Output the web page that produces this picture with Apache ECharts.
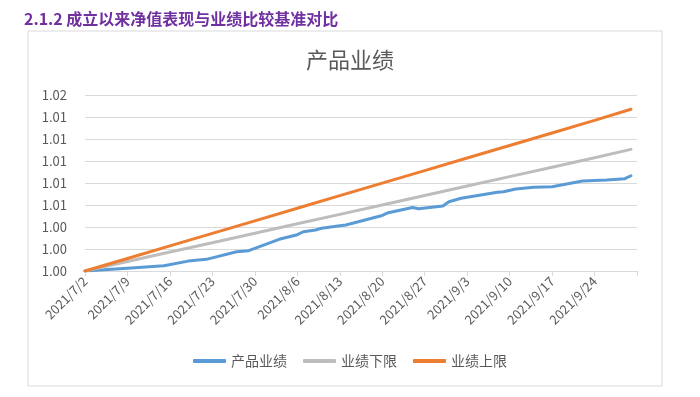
<!DOCTYPE html>
<html>
<head>
<meta charset="utf-8">
<script src="https://cdn.jsdelivr.net/npm/echarts@6/dist/echarts.min.js"></script>
<style>
  html, body { margin: 0; padding: 0; background: #fff; }
  #main { width: 700px; height: 397px; }
</style>
</head>
<body>
<div id="main"></div>
<script>
// 成立以来净值表现与业绩比较基准对比（产品业绩 vs 业绩上下限）

const startDate = new Date(2021, 6, 2)
const dayCount = 92 // 2021/7/2 ~ 2021/10/1

const yTickLabels = ['1.00', '1.00', '1.00', '1.01', '1.01', '1.01', '1.01', '1.01', '1.02']

const productDates = [
  '2021/7/2', '2021/7/9', '2021/7/15', '2021/7/19', '2021/7/22', '2021/7/27', '2021/7/29',
  '2021/8/3', '2021/8/6', '2021/8/7', '2021/8/9', '2021/8/10', '2021/8/13', '2021/8/14',
  '2021/8/20', '2021/8/21', '2021/8/25', '2021/8/26', '2021/8/30', '2021/8/31',
  '2021/9/2', '2021/9/8', '2021/9/9', '2021/9/11', '2021/9/14', '2021/9/17',
  '2021/9/22', '2021/9/26', '2021/9/29', '2021/9/30',
]
const productValues = [
  1.00000, 1.00025, 1.00048, 1.00090, 1.00106, 1.00175, 1.00185,
  1.00288, 1.00330, 1.00357, 1.00373, 1.00388, 1.00412, 1.00418,
  1.00505, 1.00530, 1.00578, 1.00566, 1.00591, 1.00630,
  1.00661, 1.00715, 1.00721, 1.00745, 1.00761, 1.00766,
  1.00818, 1.00827, 1.00839, 1.00866,
]

const benchDates = [
  '2021/7/2', '2021/7/9', '2021/7/16', '2021/7/23', '2021/7/30', '2021/8/6', '2021/8/13',
  '2021/8/20', '2021/8/27', '2021/9/3', '2021/9/10', '2021/9/17', '2021/9/24', '2021/9/30',
]
const lowerValues = [
  1.00000, 1.00086, 1.00172, 1.00257, 1.00343, 1.00429, 1.00515,
  1.00600, 1.00686, 1.00772, 1.00858, 1.00943, 1.01029, 1.01106,
]
const upperValues = [
  1.00000, 1.00114, 1.00228, 1.00342, 1.00456, 1.00570, 1.00685,
  1.00799, 1.00913, 1.01027, 1.01141, 1.01255, 1.01369, 1.01470,
]

const seriesNames = ['产品业绩', '业绩下限', '业绩上限']
const seriesColors = ['#5B9BD5', '#BDBDBD', '#ED7D31']

function buildCategories() {
  const out = []
  for (let i = 0; i < dayCount; i++) {
    const d = new Date(startDate.getTime() + i * 86400000)
    out.push(`${d.getFullYear()}/${d.getMonth() + 1}/${d.getDate()}`)
  }
  return out
}

function pairs(dates, values) {
  return dates.map((d, i) => [d, values[i]])
}

const categories = buildCategories()
const chart = echarts.init(document.getElementById('main'))

chart.setOption({
  backgroundColor: '#fff',
  animation: false,
  title: [
    {
      text: '2.1.2 成立以来净值表现与业绩比较基准对比',
      left: 19,
      top: 6,
      textStyle: { fontSize: 16, fontWeight: 'bold', color: '#7030A0', fontFamily: 'Noto Sans CJK SC' },
    },
    {
      text: '产品业绩',
      left: 345,
      top: 44,
      textAlign: 'center',
      textStyle: { fontSize: 22, fontWeight: 'normal', color: '#595959', fontFamily: 'Noto Sans CJK SC' },
    },
  ],
  graphic: [
    {
      type: 'rect',
      silent: true,
      shape: { x: 28, y: 31, width: 634, height: 355 },
      style: { fill: 'transparent', stroke: '#D9D9D9', lineWidth: 1 },
    },
  ],
  legend: {
    bottom: 24,
    left: 'center',
    icon: 'roundRect',
    itemWidth: 33,
    itemHeight: 4,
    itemGap: 16,
    textStyle: { fontSize: 14, color: '#595959', fontFamily: 'Noto Sans CJK SC' },
    data: seriesNames,
  },
  grid: { left: 85, right: 63, top: 95, bottom: 126 },
  xAxis: {
    type: 'category',
    data: categories,
    boundaryGap: false,
    axisLine: { lineStyle: { color: '#D9D9D9' } },
    axisTick: { interval: 6, length: 5, lineStyle: { color: '#D9D9D9' } },
    axisLabel: {
      interval: (i) => i % 7 === 0 && i < dayCount - 1,
      rotate: 45,
      margin: 8,
      fontSize: 13,
      color: '#595959',
      fontFamily: 'Noto Sans CJK SC',
    },
    splitLine: { show: false },
  },
  yAxis: {
    type: 'value',
    min: 1.0,
    max: 1.016,
    interval: 0.002,
    axisLine: { show: false },
    axisTick: { show: false },
    axisLabel: {
      margin: 18,
      fontSize: 13,
      color: '#595959',
      fontFamily: 'Noto Sans CJK SC',
      formatter: (v) => yTickLabels[Math.round((v - 1) / 0.002)],
    },
    splitLine: { lineStyle: { color: '#D9D9D9' } },
  },
  series: [
    { data: pairs(productDates, productValues) },
    { data: pairs(benchDates, lowerValues) },
    { data: pairs(benchDates, upperValues) },
  ].map((s, i) => ({
    name: seriesNames[i],
    type: 'line',
    data: s.data,
    symbol: 'none',
    color: seriesColors[i],
    lineStyle: { width: 3, color: seriesColors[i], cap: 'round', join: 'round' },
  })),
})
</script>
</body>
</html>
